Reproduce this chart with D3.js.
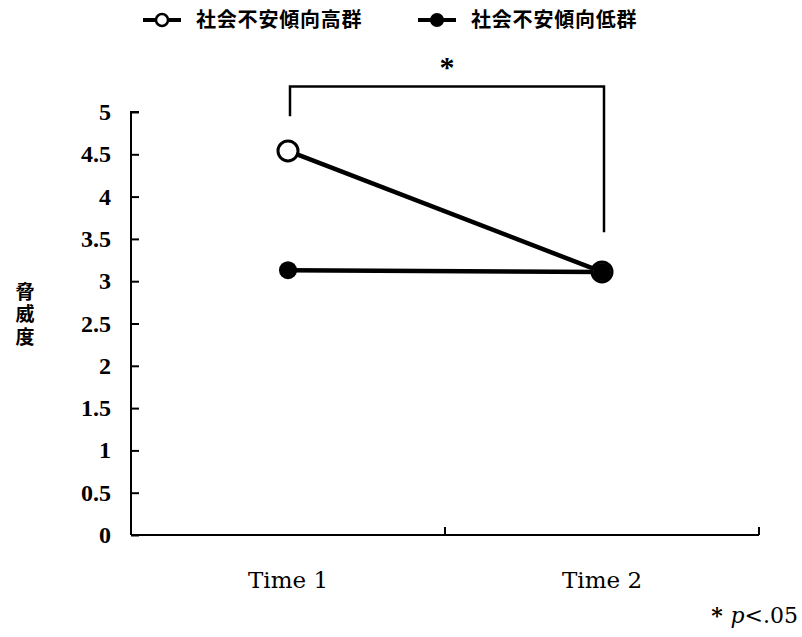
<!DOCTYPE html>
<html>
<head>
<meta charset="utf-8">
<script src="https://cdn.jsdelivr.net/npm/d3@7/dist/d3.min.js"></script>
<style>
  html, body { margin: 0; padding: 0; background: #fff; }
  svg { display: block; }
</style>
</head>
<body>
<svg id="chart" width="802" height="637"></svg>
<script>
// Threat ratings of the two social-anxiety groups at two time points
const categories = ["Time 1", "Time 2"];
const highGroup = [4.54, 3.11];   // 社会不安傾向高群
const lowGroup  = [3.13, 3.11];   // 社会不安傾向低群
const seriesNames = ["社会不安傾向高群", "社会不安傾向低群"];
const yTicks = [0, 0.5, 1, 1.5, 2, 2.5, 3, 3.5, 4, 4.5, 5];
const yTitle = "脅威度";
// significance bracket: top level and the leg ends (Time 1, Time 2)
const bracketTop = 5.3;
const bracketEnds = [4.95, 3.58];

const svg = d3.select("#chart");
const serif = "'Liberation Serif', 'DejaVu Serif', serif";
const wideSerif = "'DejaVu Serif', serif";
const cjk = "'Noto Sans CJK JP', sans-serif";

const x = d3.scaleBand().domain(categories).range([131, 759]);
const xc = d => x(d) + x.bandwidth() / 2;
const y = d3.scaleLinear().domain([0, 5]).range([535, 112]);

// y axis (ticks point inward)
const yAxis = d3.axisRight(y).tickValues(yTicks).tickSize(8).tickFormat("");
const gy = svg.append("g").attr("transform", "translate(131,0)").call(yAxis);
gy.select(".domain").attr("stroke", "#000").attr("stroke-width", 2).attr("d", `M8,${y(5)}H0V${y(0)}`);
gy.selectAll(".tick line").attr("stroke", "#000").attr("stroke-width", 2);

svg.append("g").selectAll("text").data(yTicks).join("text")
  .attr("x", 111).attr("y", d => y(d) + 8)
  .attr("text-anchor", "end")
  .attr("font-family", serif).attr("font-weight", "bold").attr("font-size", 24)
  .text(d => d3.format("")(d));

// x axis with a divider tick between the categories and one at the end
const xTickPos = [x(categories[1]), x.range()[1]];
svg.append("line").attr("x1", x.range()[0]).attr("x2", x.range()[1])
  .attr("y1", y(0)).attr("y2", y(0)).attr("stroke", "#000").attr("stroke-width", 2);
svg.append("g").selectAll("line").data(xTickPos).join("line")
  .attr("x1", d => d).attr("x2", d => d)
  .attr("y1", y(0)).attr("y2", y(0) - 8)
  .attr("stroke", "#000").attr("stroke-width", 2);

svg.append("g").selectAll("text").data(categories).join("text")
  .attr("x", d => xc(d)).attr("y", 588)
  .attr("text-anchor", "middle")
  .attr("font-family", wideSerif).attr("font-size", 23)
  .text(d => d);

// y title, set vertically
svg.append("text")
  .attr("x", 25).attr("y", 282)
  .attr("writing-mode", "vertical-rl")
  .attr("text-anchor", "start")
  .attr("font-family", cjk).attr("font-weight", "bold").attr("font-size", 19)
  .attr("letter-spacing", 3.5)
  .text(yTitle);

// lines
const line = d3.line().x((d, i) => xc(categories[i])).y(d => y(d));
svg.append("path").datum(highGroup).attr("d", line)
  .attr("fill", "none").attr("stroke", "#000").attr("stroke-width", 4.5);
svg.append("path").datum(lowGroup).attr("d", line)
  .attr("fill", "none").attr("stroke", "#000").attr("stroke-width", 4.5);

// markers
svg.append("g").selectAll("circle").data(highGroup).join("circle")
  .attr("cx", (d, i) => xc(categories[i])).attr("cy", d => y(d))
  .attr("r", 10).attr("fill", "#fff").attr("stroke", "#000").attr("stroke-width", 3);
svg.append("g").selectAll("circle").data(lowGroup).join("circle")
  .attr("cx", (d, i) => xc(categories[i])).attr("cy", d => y(d))
  .attr("r", 9).attr("fill", "#000");

// significance bracket
const bx = categories.map(c => xc(c) + 2);
svg.append("path")
  .attr("d", `M${bx[0]},${y(bracketEnds[0])}V${y(bracketTop)}H${bx[1]}V${y(bracketEnds[1])}`)
  .attr("fill", "none").attr("stroke", "#000").attr("stroke-width", 2.5);
svg.append("text").attr("x", (bx[0] + bx[1]) / 2).attr("y", 77)
  .attr("text-anchor", "middle")
  .attr("font-family", serif).attr("font-weight", "bold").attr("font-size", 30)
  .text("*");

// legend
const legendX = [143, 418];
const lg = svg.append("g").selectAll("g").data(seriesNames).join("g")
  .attr("transform", (d, i) => `translate(${legendX[i]},20)`);
lg.append("line").attr("x1", 0).attr("x2", 38).attr("y1", 0).attr("y2", 0)
  .attr("stroke", "#000").attr("stroke-width", 4);
lg.append("circle").attr("cx", 19).attr("cy", 0)
  .attr("r", (d, i) => i === 0 ? 6 : 7)
  .attr("fill", (d, i) => i === 0 ? "#fff" : "#000")
  .attr("stroke", "#000").attr("stroke-width", (d, i) => i === 0 ? 2.5 : 0);
lg.append("text").attr("x", 53).attr("y", 7)
  .attr("font-family", cjk).attr("font-weight", "bold").attr("font-size", 20)
  .attr("letter-spacing", 0.8)
  .text(d => d);

// footnote
const note = svg.append("text").attr("x", 798).attr("y", 623)
  .attr("text-anchor", "end").attr("font-family", wideSerif).attr("font-size", 22);
note.append("tspan").attr("font-weight", "bold").text("* ");
note.append("tspan").attr("font-style", "italic").text("p");
note.append("tspan").text("<.05");
</script>
</body>
</html>
